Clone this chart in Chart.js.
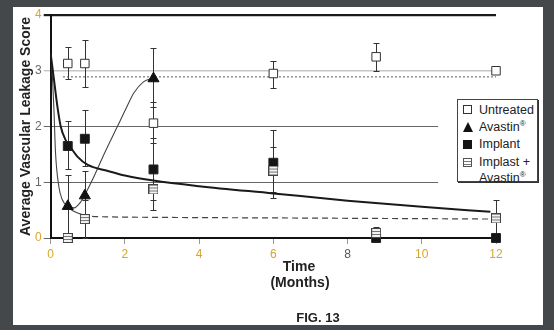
<!DOCTYPE html>
<html>
<head>
<meta charset="utf-8">
<script src="https://cdn.jsdelivr.net/npm/chart.js@4.4.1/dist/chart.umd.min.js"></script>
<style>
  html, body { margin: 0; padding: 0; }
  body { width: 554px; height: 330px; background: #45484b; position: relative; overflow: hidden;
         font-family: "Liberation Sans", Arial, sans-serif; color: #222; }
  #paper { position: absolute; left: 13px; top: 7px; width: 530px; height: 318px; background: #fff; }
  #chart { position: absolute; left: 0; top: 0; }
  .lbl { position: absolute; font-weight: bold; white-space: nowrap; transform: translateX(-50%); }
  #cover { position: absolute; left: 438px; top: 90px; width: 102px; height: 104px; background: #fff; }
  #legend { position: absolute; left: 457px; top: 99px; width: 81px; height: 83px; box-sizing: border-box;
            border: 1px solid #444; box-shadow: 1px 1px 0 #333; background: #fff; font-size: 12.5px; }
  #legend .row { position: absolute; left: 21px; line-height: 17px; white-space: nowrap; color: #222; }
  #legend sup { font-size: 8px; vertical-align: 5px; line-height: 0; }
  #legend .ico { position: absolute; left: 5px; box-sizing: border-box; }
  .open { width: 9px; height: 9px; border: 1px solid #333; background: #fff; }
  .tri { width: 0; height: 0; border-left: 5px solid transparent; border-right: 5px solid transparent;
         border-bottom: 10px solid #111; }
  .fill { width: 9px; height: 9px; background: #151515; }
  .stripe { width: 9px; height: 9px; border: 1px solid #555;
            background: repeating-linear-gradient(to bottom, #fff 0, #fff 2px, #777 2px, #777 3px); }
</style>
</head>
<body>
<div id="paper"></div>
<canvas id="chart" width="554" height="330"></canvas>
<div id="cover"></div>
<div id="legend">
  <div class="ico open" style="top:5px"></div>
  <div class="row" style="top:2px">Untreated</div>
  <div class="ico tri" style="top:22px"></div>
  <div class="row" style="top:19px">Avastin<sup>®</sup></div>
  <div class="ico fill" style="top:40px"></div>
  <div class="row" style="top:36px">Implant</div>
  <div class="ico stripe" style="top:58px"></div>
  <div class="row" style="top:54px">Implast +</div>
  <div class="row" style="top:70px">Avastin<sup>®</sup></div>
</div>
<div class="lbl" style="left:299px; top:259px; font-size:14px; line-height:14px">Time</div>
<div class="lbl" style="left:300px; top:275px; font-size:14px; line-height:14px">(Months)</div>
<div class="lbl" style="left:318px; top:311px; font-size:13px; line-height:13px">FIG. 13</div>

<script>
// sampling times (months) and group means
const months = [0.46, 0.92, 2.77, 6, 8.77, 12];
const avastinMonths = [0.46, 0.92, 2.77];

const untreated = [3.13, 3.13, 2.06, 2.95, 3.25, 3.0];
const avastin = [0.57, 0.76, 2.86];
const implant = [1.65, 1.78, 1.23, 1.35, 0.0, 0.0];
const combo = [0.0, 0.34, 0.87, 1.21, 0.09, 0.35];

// error ranges [low, high]
const untreatedErr = [[2.85, 3.43], [2.71, 3.55], [1.7, 2.44], [2.69, 3.17], [3.0, 3.5], null];
const avastinErr = [[0.03, 1.13], [0.35, 1.2], [2.35, 3.41]];
const implantErr = [[1.24, 2.1], [1.3, 2.3], [0.69, 1.79], [0.72, 1.94], null, null];
const comboErr = [null, [0, 0.68], [0.5, 1.26], [0.82, 1.63], [0, 0.2], [0, 0.68]];

// fitted curves
const implantFitX = [0, 0.09, 0.18, 0.27, 0.4, 0.49, 0.72, 1.0, 1.5, 2.0, 2.77, 4, 6, 8, 10, 11.85];
const implantFitY = [3.3, 2.83, 2.36, 2.0, 1.76, 1.67, 1.46, 1.31, 1.21, 1.12, 1.03, 0.93, 0.8, 0.67, 0.56, 0.47];

const avastinFitX = [0, 0.05, 0.09, 0.13, 0.22, 0.31, 0.45, 0.63, 0.8, 0.94, 1.15, 1.4, 1.65, 1.87, 2.05, 2.24, 2.5, 2.77];
const avastinFitY = [3.3, 2.85, 2.25, 1.53, 0.92, 0.69, 0.57, 0.54, 0.64, 0.8, 1.08, 1.45, 1.8, 2.1, 2.35, 2.6, 2.8, 2.87];

const plateauX = [0.33, 12];
const plateauY = [2.89, 2.89];

const comboFitX = [0.46, 0.65, 0.85, 1.1, 1.5, 3, 6, 9, 12];
const comboFitY = [0.55, 0.47, 0.42, 0.39, 0.38, 0.37, 0.36, 0.35, 0.34];

const yTicks = [0, 1, 2, 3, 4];
const xTicks = [0, 2, 4, 6, 8, 10, 12];

const gold = "#d9a62a";
const toPoints = (xs, ys) => xs.map((v, i) => ({ x: v, y: ys[i] }));

// striped marker for the implant + avastin group
const stripe = document.createElement("canvas");
stripe.width = 10;
stripe.height = 10;
const sctx = stripe.getContext("2d");
sctx.fillStyle = "#f2f2f2";
sctx.fillRect(0, 0, 10, 10);
sctx.strokeStyle = "#777";
sctx.lineWidth = 1;
sctx.beginPath();
sctx.moveTo(1, 3.5); sctx.lineTo(9, 3.5);
sctx.moveTo(1, 6.5); sctx.lineTo(9, 6.5);
sctx.stroke();
sctx.strokeStyle = "#444";
sctx.strokeRect(0.5, 0.5, 9, 9);

// vertical error bars with caps, under the markers
const errorBars = {
    id: "errorBars",
    beforeDatasetsDraw(chart) {
        const { ctx, scales: { x, y } } = chart;
        ctx.save();
        ctx.strokeStyle = "#333";
        ctx.lineWidth = 1;
        chart.data.datasets.forEach(ds => {
            if (!ds.errors) return;
            ds.data.forEach((pt, i) => {
                const e = ds.errors[i];
                if (!e) return;
                const px = Math.round(x.getPixelForValue(pt.x)) + 0.5;
                const lo = Math.round(y.getPixelForValue(e[0])) + 0.5;
                const hi = Math.round(y.getPixelForValue(e[1])) + 0.5;
                ctx.beginPath();
                ctx.moveTo(px, lo); ctx.lineTo(px, hi);
                ctx.moveTo(px - 3, lo); ctx.lineTo(px + 3, lo);
                ctx.moveTo(px - 3, hi); ctx.lineTo(px + 3, hi);
                ctx.stroke();
            });
        });
        ctx.restore();
    }
};

new Chart(document.getElementById("chart"), {
    type: "scatter",
    data: {
        datasets: [
            {
                label: "Implast + Avastin",
                data: toPoints(months, combo),
                errors: comboErr,
                pointStyle: stripe,
                order: 1,
                clip: false
            },
            {
                label: "Implant",
                data: toPoints(months, implant),
                errors: implantErr,
                pointStyle: "rect",
                pointRadius: 6.3,
                backgroundColor: "#151515",
                borderColor: "#222",
                borderWidth: 1,
                order: 2,
                clip: false
            },
            {
                label: "Untreated",
                data: toPoints(months, untreated),
                errors: untreatedErr,
                pointStyle: "rect",
                pointRadius: 6,
                backgroundColor: "#fff",
                borderColor: "#333",
                borderWidth: 1,
                order: 3,
                clip: false
            },
            {
                label: "Avastin",
                data: toPoints(avastinMonths, avastin),
                errors: avastinErr,
                pointStyle: "triangle",
                pointRadius: 6.4,
                backgroundColor: "#111",
                borderColor: "#111",
                borderWidth: 1,
                order: 4,
                clip: false
            },
            {
                label: "Implant fit",
                data: toPoints(implantFitX, implantFitY),
                showLine: true,
                pointRadius: 0,
                borderColor: "#1a1a1a",
                borderWidth: 2,
                cubicInterpolationMode: "monotone",
                order: 10
            },
            {
                label: "Avastin fit",
                data: toPoints(avastinFitX, avastinFitY),
                showLine: true,
                pointRadius: 0,
                borderColor: "#444",
                borderWidth: 1.1,
                cubicInterpolationMode: "monotone",
                order: 11
            },
            {
                label: "Avastin plateau",
                data: toPoints(plateauX, plateauY),
                showLine: true,
                pointRadius: 0,
                borderColor: "#555",
                borderWidth: 1,
                borderDash: [2, 2],
                order: 12
            },
            {
                label: "Combo fit",
                data: toPoints(comboFitX, comboFitY),
                showLine: true,
                pointRadius: 0,
                borderColor: "#444",
                borderWidth: 1.2,
                cubicInterpolationMode: "monotone",
                segment: {
                    borderDash: c => c.p0.parsed.x >= 0.85 ? [6, 4] : undefined
                },
                order: 13
            }
        ]
    },
    options: {
        responsive: false,
        animation: false,
        events: [],
        layout: { padding: { left: 12, top: 15, right: 58, bottom: 0 } },
        plugins: {
            legend: { display: false },
            tooltip: { enabled: false }
        },
        scales: {
            x: {
                type: "linear",
                min: 0,
                max: 12,
                afterBuildTicks: s => { s.ticks = xTicks.map(v => ({ value: v })); },
                afterFit: s => { s.height = 92; },
                ticks: {
                    color: c => c.tick.value === 8 ? "#555" : gold,
                    font: { family: "Liberation Sans", size: 12 },
                    padding: 3,
                    maxRotation: 0
                },
                grid: { drawOnChartArea: false, tickLength: 6, color: "#999" },
                border: { color: "#111", width: 2 }
            },
            y: {
                min: 0,
                max: 4,
                afterBuildTicks: s => { s.ticks = yTicks.map(v => ({ value: v })); },
                afterFit: s => { s.width = 38.7; },
                ticks: {
                    color: c => (c.tick.value === 0 || c.tick.value === 4) ? gold : "#666",
                    font: { family: "Liberation Sans", size: 12 },
                    padding: 2
                },
                grid: {
                    tickLength: 7,
                    color: c => c.tick.value === 3 ? "#c6c6c6" : c.tick.value === 4 ? "#1a1a1a" : "#666",
                    lineWidth: c => c.tick.value === 4 ? 2.2 : c.tick.value === 3 ? 1.4 : 1
                },
                border: { color: "#111", width: 2 },
                title: {
                    display: true,
                    text: "Average Vascular Leakage Score",
                    color: "#222",
                    font: { family: "Liberation Sans", size: 14, weight: "bold" },
                    padding: { top: 6, bottom: 0 }
                }
            }
        }
    },
    plugins: [errorBars]
});
</script>
</body>
</html>
